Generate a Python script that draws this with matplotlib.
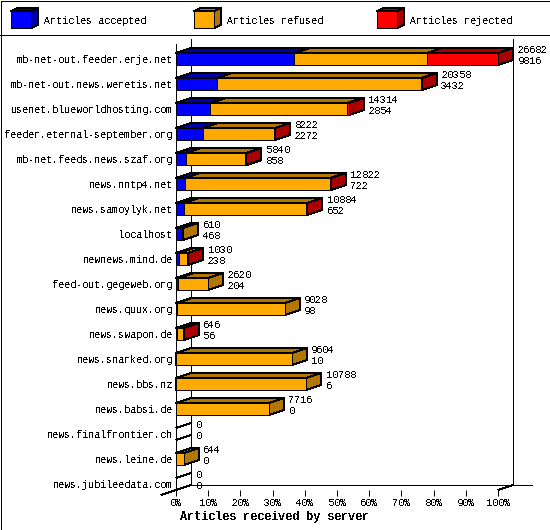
import matplotlib
matplotlib.use('Agg')
import matplotlib.pyplot as plt
from matplotlib.patches import Polygon, Rectangle

plt.rcParams['font.family'] = ['Liberation Mono', 'DejaVu Sans Mono']
plt.rcParams['text.antialiased'] = False
plt.rcParams['text.hinting_factor'] = 1

# data
servers = ['mb-net-out.feeder.erje.net', 'mb-net-out.news.weretis.net',
           'usenet.blueworldhosting.com', 'feeder.eternal-september.org',
           'mb-net.feeds.news.szaf.org', 'news.nntp4.net', 'news.samoylyk.net',
           'localhost', 'newnews.mind.de', 'feed-out.gegeweb.org', 'news.quux.org',
           'news.swapon.de', 'news.snarked.org', 'news.bbs.nz', 'news.babsi.de',
           'news.finalfrontier.ch', 'news.leine.de', 'news.jubileedata.com']
offered = [26682, 20358, 14314, 8222, 5840, 12822, 10884, 610, 1030,
           2620, 9028, 646, 9604, 10788, 7716, 0, 644, 0]
accepted = [9816, 3432, 2854, 2272, 858, 722, 652, 468, 238,
            204, 98, 56, 10, 6, 0, 0, 0, 0]
rejected = [5900, 20, 120, 30, 20, 20, 15, 0, 15,
            0, 0, 8, 0, 0, 0, 0, 0, 0]
ticks = [0, 10, 20, 30, 40, 50, 60, 70, 80, 90, 100]
legend_names = ['Articles accepted', 'Articles refused', 'Articles rejected']

front = ['#0000ff', '#ffaa00', '#ff0000']
dark = ['#0000aa', '#b27700', '#aa0000']

W, H = 550, 530
LEFT, RIGHT = 176, 498
TOP, BOTTOM = 44, 490
ROW0, PITCH = 59, 25
LW = 0.72
FS = 7.35
xmax = max(offered)

fig = plt.figure(figsize=(W / 100, H / 100), dpi=100, facecolor='white')

# overlay in pixels for frame and legend
bg = fig.add_axes([0, 0, 1, 1])
bg.set_xlim(0, W)
bg.set_ylim(H, 0)
bg.axis('off')

ax = fig.add_axes([LEFT / W, 1 - BOTTOM / H, (RIGHT - LEFT) / W, (BOTTOM - TOP) / H])
ax.set_xlim(0, xmax)
ax.set_ylim((BOTTOM - ROW0) / PITCH, (TOP - ROW0) / PITCH)
ax.patch.set_visible(False)
for s in ['top', 'right', 'bottom']:
    ax.spines[s].set_visible(False)
ax.spines['left'].set_linewidth(LW)
ax.spines['left'].set_antialiased(False)

dx = 15 * xmax / (RIGHT - LEFT)
dy = 5 / PITCH
half = 6 / PITCH


def poly(axis, pts, color, z):
    axis.add_patch(Polygon(pts, closed=True, facecolor=color, edgecolor='black',
                           linewidth=LW, antialiased=False, zorder=z, clip_on=False))


def segment(axis, x0, x1, yc, h, ox, oy, k, z=3):
    poly(axis, [(x0, yc - h), (x0 + ox, yc - h + oy), (x1 + ox, yc - h + oy), (x1, yc - h)], dark[k], z)
    poly(axis, [(x1, yc - h), (x1 + ox, yc - h + oy), (x1 + ox, yc + h + oy), (x1, yc + h)], dark[k], z)
    poly(axis, [(x0, yc - h), (x1, yc - h), (x1, yc + h), (x0, yc + h)], front[k], z)


def line(xs, ys):
    ax.plot(xs, ys, color='black', lw=LW, antialiased=False, clip_on=False, zorder=2, solid_capstyle='butt')


# walls and floor
ybot = (BOTTOM - ROW0) / PITCH
ytop = (TOP - ROW0) / PITCH
line([dx, dx], [ybot - dy, ytop - dy])
line([xmax + dx, xmax + dx], [ybot - dy, ytop - dy])
line([-dx, dx], [ybot + dy, ybot - dy])
line([xmax, xmax + dx], [ybot, ybot - dy])
line([dx, xmax + dx + 19 * xmax / (RIGHT - LEFT)], [ybot - dy, ybot - dy])

for i in range(len(servers)):
    refused = offered[i] - accepted[i] - rejected[i]
    pos = 0
    drawn = False
    for k, val in enumerate([accepted[i], refused, rejected[i]]):
        if val > 0:
            segment(ax, pos, pos + val, i, half, dx, -dy, k)
            pos += val
            drawn = True
    if not drawn:
        # empty row still shows the outline of the top face
        line([0, dx], [i - half, i - half - dy])
        line([0, dx], [i + half, i + half - dy])
    ax.annotate(str(offered[i]), xy=(offered[i], i), xytext=(19.5 * 0.72, 6.5), textcoords='offset points',
                fontsize=FS, va='center', ha='left', annotation_clip=False, zorder=5)
    ax.annotate(str(accepted[i]), xy=(offered[i], i), xytext=(19.5 * 0.72, -1.5), textcoords='offset points',
                fontsize=FS, va='center', ha='left', annotation_clip=False, zorder=5)

ax.set_yticks(range(len(servers)))
ax.set_yticklabels(servers, fontsize=FS)
ax.tick_params(axis='y', length=0, pad=2.5)
ax.set_xticks([t * xmax / 100 for t in ticks])
ax.set_xticklabels(['%d%%' % t for t in ticks], fontsize=FS)
ax.tick_params(axis='x', length=4.3, width=LW, pad=1.5)
for t in ax.get_xticklines():
    t.set_antialiased(False)
ax.set_xlabel('Articles received by server', fontsize=8.4, fontweight='bold')
ax.xaxis.set_label_coords((274 - LEFT) / (RIGHT - LEFT), -(517 - BOTTOM) / (BOTTOM - TOP))
ax.xaxis.label.set_verticalalignment('center')

# frame
bg.add_patch(Rectangle((0.5, 0.5), W - 1, H - 1, fill=False, edgecolor='black', linewidth=LW, antialiased=False))
bg.plot([0, W], [35, 35], color='black', lw=LW, antialiased=False)

# legend
legend_x = [11, 194, 377]
for k, name in enumerate(legend_names):
    x = legend_x[k]
    segment(bg, x, x + 20, 19.5, 8.5, 7, -3, k)
    bg.text(x + 33, 20.5, name, fontsize=FS, va='center', ha='left')

fig.savefig('out.png', dpi=100)
